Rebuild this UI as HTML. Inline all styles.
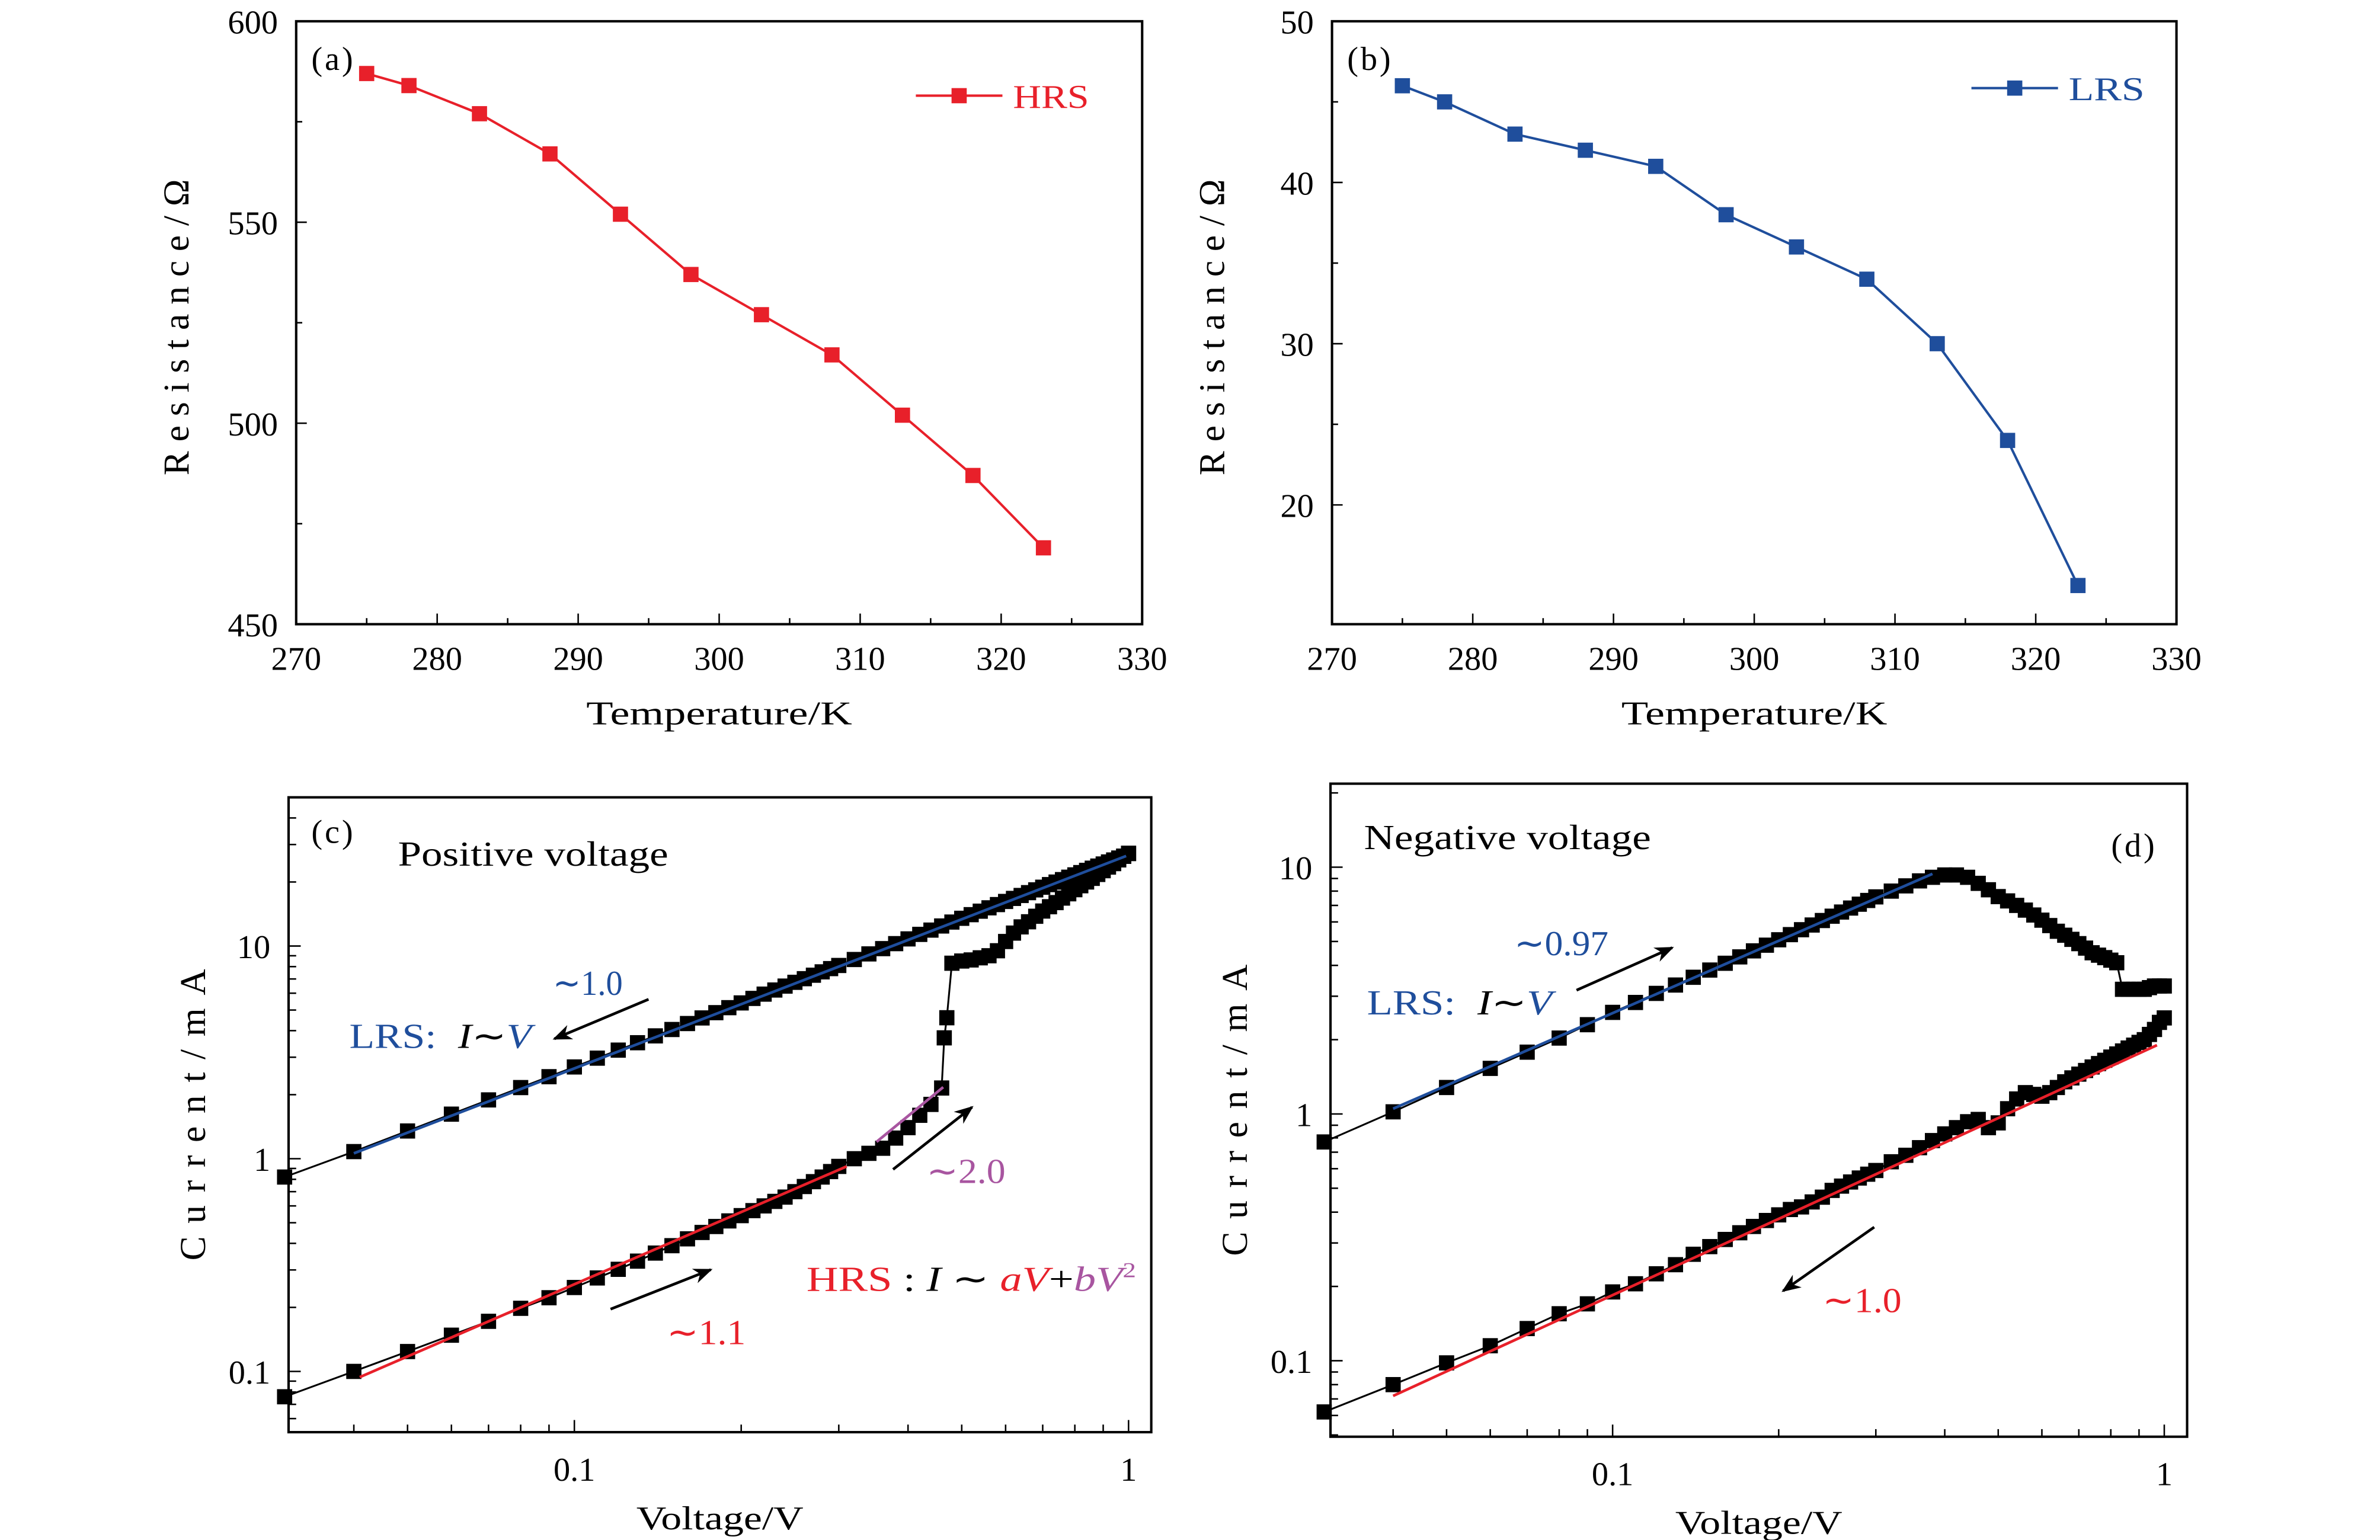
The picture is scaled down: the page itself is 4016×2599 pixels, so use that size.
<!DOCTYPE html>
<html><head><meta charset="utf-8">
<style>
html,body{margin:0;padding:0;background:#fff;}
svg{display:block;font-family:"Liberation Serif",serif;}
</style></head>
<body>
<svg id="fig" width="4016" height="2599" viewBox="0 0 1567 1014" preserveAspectRatio="none" xmlns="http://www.w3.org/2000/svg">
<defs>
<marker id="ah" viewBox="0 0 10 10" refX="9" refY="5" markerWidth="7" markerHeight="7" orient="auto"><path d="M0,1 L10,5 L0,9 L3,5 z" fill="#000"/></marker>
</defs>
</svg>
<script>
// ---- data ----
const tempA = [275,278,283,288,293,298,303,308,313,318,323];
const hrsR = [587,584,577,567,552,537,527,517,502,487,469];
const tempB = [275,278,283,288,293,298,303,308,313,318,323];
const lrsR = [46,45,43,42,41,38,36,34,30,24,15];
const tTicks = [270,280,290,300,310,320,330];
const aTicks = [450,500,550,600];
const bTicks = [20,30,40,50];

const vC = [0.03,0.04,0.05,0.06,0.07,0.08,0.09,0.10,0.11,0.12,0.13,0.14,0.15,0.16,0.17,0.18,0.19,0.20,0.21,0.22,0.23,0.24,0.25,0.26,0.27,0.28,0.29,0.30,0.32,0.34,0.36,0.38,0.40,0.42,0.44,0.46,0.48,0.50,0.52,0.54,0.56,0.58,0.60,0.62,0.64,0.66,0.68,0.70,0.72,0.74,0.76,0.78,0.80,0.82,0.84,0.86,0.88,0.90,0.92,0.94,0.96,0.98,1.00];
const lrsC = [0.82,1.08,1.35,1.62,1.89,2.16,2.43,2.70,2.97,3.24,3.51,3.78,4.05,4.32,4.59,4.86,5.13,5.40,5.67,5.94,6.21,6.48,6.75,7.02,7.29,7.56,7.83,8.10,8.64,9.18,9.72,10.26,10.8,11.34,11.88,12.42,12.96,13.5,14.04,14.58,15.12,15.66,16.2,16.74,17.28,17.82,18.36,18.9,19.44,19.98,20.52,21.06,21.6,22.14,22.68,23.22,23.76,24.3,24.84,25.38,25.92,26.46,27.2];
const vHc = [0.03,0.04,0.05,0.06,0.07,0.08,0.09,0.10,0.11,0.12,0.13,0.14,0.15,0.16,0.17,0.18,0.19,0.20,0.21,0.22,0.23,0.24,0.25,0.26,0.27,0.28,0.29,0.30,0.32,0.34,0.36,0.38,0.40,0.42,0.44,0.46,0.465,0.47,0.48,0.50,0.52,0.54,0.56,0.58,0.60,0.62,0.64,0.66,0.68,0.70,0.72,0.74,0.76,0.78,0.80,0.82,0.84,0.86,0.88,0.90,0.92,0.94,0.96,0.98,1.00];
const hrsC = [0.076,0.100,0.124,0.148,0.172,0.198,0.222,0.248,0.275,0.302,0.33,0.36,0.39,0.42,0.45,0.48,0.51,0.54,0.57,0.60,0.63,0.66,0.70,0.74,0.78,0.82,0.87,0.92,1.0,1.06,1.12,1.25,1.4,1.6,1.8,2.15,3.7,4.6,8.3,8.5,8.6,8.8,9.0,9.5,10.5,11.5,12.3,13.0,13.8,14.6,15.3,16.0,16.8,17.6,18.4,19.2,20.0,20.8,21.7,22.6,23.5,24.4,25.4,26.4,27.3];
const fitC = {lrsV:[0.04,0.99], lrsI:[1.06,26.5], hrsV:[0.041,0.31], hrsI:[0.094,0.92], sqV:[0.351,0.463], sqI:[1.2,2.17]};

const vD = vC;
const lrsD = [0.77,1.02,1.28,1.53,1.78,2.03,2.3,2.58,2.83,3.08,3.33,3.58,3.83,4.08,4.33,4.58,4.83,5.08,5.33,5.58,5.83,6.08,6.33,6.58,6.83,7.08,7.33,7.58,8.0,8.4,8.8,9.1,9.3,9.3,9.1,8.6,8.1,7.6,7.3,7.0,6.7,6.4,6.1,5.8,5.5,5.3,5.1,4.9,4.7,4.5,4.4,4.3,4.2,4.1,3.2,3.2,3.2,3.2,3.2,3.25,3.3,3.3,3.3];
const hrsD = [0.062,0.08,0.098,0.115,0.135,0.155,0.17,0.19,0.205,0.225,0.245,0.27,0.29,0.31,0.33,0.35,0.37,0.39,0.41,0.42,0.44,0.46,0.49,0.51,0.53,0.55,0.57,0.59,0.64,0.68,0.73,0.78,0.83,0.88,0.93,0.95,0.88,0.92,1.05,1.15,1.22,1.2,1.18,1.22,1.28,1.35,1.4,1.45,1.5,1.55,1.6,1.65,1.7,1.75,1.8,1.85,1.9,1.95,2.0,2.1,2.2,2.35,2.45];
const fitD = {lrsV:[0.04,0.38], lrsI:[1.05,9.4], hrsV:[0.04,0.97], hrsI:[0.072,1.9]};

const RED="#e8202a", BLUE="#1f4e9c", PURP="#a855a0";
const svg=document.getElementById('fig');
const NS="http://www.w3.org/2000/svg";
function mk(tag,attrs,parent,text){const e=document.createElementNS(NS,tag);for(const k in attrs)e.setAttribute(k,attrs[k]);if(text!==undefined)e.textContent=text;(parent||svg).appendChild(e);return e;}
function grp(name){const g=mk('g',{});


return g;}
function lin(d0,d1,r0,r1){return v=>r0+(v-d0)/(d1-d0)*(r1-r0);}
function lg(d0,d1,r0,r1){const a=Math.log10(d0),b=Math.log10(d1);return v=>r0+(Math.log10(v)-a)/(b-a)*(r1-r0);}

function frame(g,x0,y0,x1,y1){mk('rect',{x:x0,y:y0,width:x1-x0,height:y1-y0,fill:'none',stroke:'#000','stroke-width':1.6},g);}
function tick(g,x1,y1,x2,y2){mk('line',{x1,y1,x2,y2,stroke:'#000','stroke-width':1},g);}
function txt(g,x,y,s,opt){const o=Object.assign({x,y,'font-size':22,fill:'#000'},opt||{});return mk('text',o,g,s);}

// ---------- linear panels ----------
function linPanel(name,X0,X1,Y0,Y1,ymin,ymax,yt,xs,ys,color,leg,legX,legY,label){
  const g=grp(name);
  const sx=lin(270,330,X0,X1), sy=lin(ymin,ymax,Y1,Y0);
  frame(g,X0,Y0,X1,Y1);
  const ax=grp(name+'-x-axis'); g.appendChild(ax);
  tTicks.forEach(t=>{tick(ax,sx(t),Y1,sx(t),Y1-7);
    const l=txt(ax,sx(t),Y1+30,String(t),{'text-anchor':'middle'});
    
    
    if(t<330)tick(ax,sx(t+5),Y1,sx(t+5),Y1-4);});
  const xl=txt(ax,(X0+X1)/2,Y1+66,'Temperature/K',{'text-anchor':'middle',textLength:175,lengthAdjust:'spacingAndGlyphs'});
  
  
  const ay=grp(name+'-y-axis'); g.appendChild(ay);
  yt.forEach((t,i)=>{tick(ay,X0,sy(t),X0+7,sy(t));
    const l=txt(ay,X0-12,sy(t)+8,String(t),{'text-anchor':'end'});
    
    
    if(i<yt.length-1)tick(ay,X0,sy((t+yt[i+1])/2),X0+4,sy((t+yt[i+1])/2));});
  const yl=txt(ay,0,0,'Resistance/Ω',{'font-size':24,'text-anchor':'middle',textLength:195,lengthAdjust:'spacing',transform:`translate(${X0-71},${(Y0+Y1)/2+3}) rotate(-90)`});
  
  
  const s=grp(name+'-series'); g.appendChild(s);
  mk('polyline',{points:xs.map((x,i)=>sx(x)+','+sy(ys[i])).join(' '),fill:'none',stroke:color,'stroke-width':1.6},s);
  xs.forEach((x,i)=>{const r=mk('rect',{x:sx(x)-5,y:sy(ys[i])-5,width:10,height:10,fill:color},s);
    
    });
  const L=grp(name+'-legend-entry'); g.appendChild(L);
  mk('line',{x1:legX,y1:legY,x2:legX+57,y2:legY,stroke:color,'stroke-width':1.6},L);
  mk('rect',{x:legX+23.5,y:legY-5,width:10,height:10,fill:color},L);
  txt(L,legX+64,legY+8,leg,{fill:color,textLength:50,lengthAdjust:'spacingAndGlyphs'});
  const pl=txt(g,X0+10,Y0+32,label,{'letter-spacing':1.5});
  
  
}
linPanel('panel-a',195,752,14,411,450,600,aTicks,tempA,hrsR,RED,'HRS',603,63,'(a)');
linPanel('panel-b',877,1433,14,411,12.6,50,bTicks,tempB,lrsR,BLUE,'LRS',1298,58,'(b)');

// ---------- log panels ----------
function logPanel(name,X0,X1,Y0,Y1,xmin,xmax,ymin,ymax,data,fits,label){
  const g=grp(name);
  const sx=lg(xmin,xmax,X0,X1), sy=lg(ymin,ymax,Y1,Y0);
  frame(g,X0,Y0,X1,Y1);
  const ax=grp(name+'-x-axis'); g.appendChild(ax);
  for(let d=-2;d<=0;d++)for(let m=1;m<=9;m++){const v=m*Math.pow(10,d);if(v<xmin||v>xmax)continue;
    tick(ax,sx(v),Y1,sx(v),Y1-(m===1?8:5));}
  [0.1,1].forEach(t=>{const l=txt(ax,sx(t),Y1+32,String(t),{'text-anchor':'middle'});
    
    });
  const xl=txt(ax,(X0+X1)/2,Y1+64,'Voltage/V',{'text-anchor':'middle',textLength:110,lengthAdjust:'spacingAndGlyphs'});
  
  
  const ay=grp(name+'-y-axis'); g.appendChild(ay);
  for(let d=-2;d<=1;d++)for(let m=1;m<=9;m++){const v=m*Math.pow(10,d);if(v<ymin||v>ymax)continue;
    tick(ay,X0,sy(v),X0+(m===1?8:5),sy(v));}
  [0.1,1,10].forEach(t=>{const l=txt(ay,X0-12,sy(t)+8,String(t),{'text-anchor':'end'});
    
    });
  const yl=txt(ay,0,0,'Current/mA',{'font-size':24,'text-anchor':'middle',textLength:192,lengthAdjust:'spacing',transform:`translate(${X0-55},${(Y0+Y1)/2}) rotate(-90)`});
  
  
  data.forEach(([xs,ys,nm])=>{const s=grp(nm); g.appendChild(s);
    mk('polyline',{points:xs.map((x,i)=>sx(x)+','+sy(ys[i])).join(' '),fill:'none',stroke:'#000','stroke-width':1.2},s);
    xs.forEach((x,i)=>{const r=mk('rect',{x:sx(x)-5,y:sy(ys[i])-5,width:10,height:10,fill:'#000'},s);
      
      });});
  fits.forEach(([xs,ys,c,nm])=>{const l=mk('line',{x1:sx(xs[0]),y1:sy(ys[0]),x2:sx(xs[1]),y2:sy(ys[1]),stroke:c,'stroke-width':1.8},g);
    
    });
  const pl=txt(g,label[1],label[2],label[0],{'letter-spacing':1.5});
  
  
  return g;
}
const gc=logPanel('panel-c',190,758,525,943,0.0305,1.099,0.0518,50,
  [[vC,lrsC,'lrs-series'],[vHc,hrsC,'hrs-series']],
  [[fitC.lrsV,fitC.lrsI,BLUE,'lrs-fit-line'],[fitC.hrsV,fitC.hrsI,RED,'hrs-linear-fit-line'],[fitC.sqV,fitC.sqI,PURP,'hrs-square-fit-line']],
  ['(c)',205,555]);
const gd=logPanel('panel-d',876,1440,516,946,0.0308,1.1,0.0492,21.8,
  [[vD,lrsD,'lrs-series'],[vD,hrsD,'hrs-series']],
  [[fitD.lrsV,fitD.lrsI,BLUE,'lrs-fit-line'],[fitD.hrsV,fitD.hrsI,RED,'hrs-fit-line']],
  ['(d)',1390,564]);

function arrow(g,x1,y1,x2,y2){const a=mk('line',{x1,y1,x2,y2,stroke:'#000','stroke-width':1.8,'marker-end':'url(#ah)'},g);
  
  }
arrow(gc,427,658,365,684); arrow(gc,402,862,468,836); arrow(gc,588,770,640,729);
arrow(gd,1038,652,1101,624); arrow(gd,1234,808,1174,850);

function ann(g,name,x,y,html,len){const t=mk('text',{x,y,'font-size':23},g);t.innerHTML=html;
  if(len){t.setAttribute('textLength',len);t.setAttribute('lengthAdjust','spacingAndGlyphs');}
  
  }
ann(gc,'condition-label',262,570,'Positive voltage',178);
ann(gc,'lrs-slope-label',364,655,`<tspan fill="${BLUE}">∼1.0</tspan>`,46);
ann(gc,'lrs-law-label',230,690,`<tspan fill="${BLUE}">LRS:</tspan><tspan dx="12" font-style="italic">I</tspan><tspan>∼</tspan><tspan font-style="italic" fill="${BLUE}">V</tspan>`,120);
ann(gc,'square-slope-label',610,779,`<tspan fill="${PURP}">∼2.0</tspan>`,52);
ann(gc,'hrs-law-label',531,850,`<tspan fill="${RED}">HRS</tspan><tspan> : </tspan><tspan font-style="italic">I</tspan><tspan> ∼ </tspan><tspan font-style="italic" fill="${RED}">aV</tspan><tspan>+</tspan><tspan font-style="italic" fill="${PURP}">bV</tspan><tspan fill="${PURP}" font-size="14" dy="-9">2</tspan>`,217);
ann(gc,'hrs-slope-label',439,885,`<tspan fill="${RED}">∼1.1</tspan>`,52);
ann(gd,'condition-label',898,559,'Negative voltage',189);
ann(gd,'lrs-slope-label',997,629,`<tspan fill="${BLUE}">∼0.97</tspan>`,62);
ann(gd,'lrs-law-label',900,668,`<tspan fill="${BLUE}">LRS:</tspan><tspan dx="12" font-style="italic">I</tspan><tspan>∼</tspan><tspan font-style="italic" fill="${BLUE}">V</tspan>`,122);
ann(gd,'hrs-slope-label',1200,864,`<tspan fill="${RED}">∼1.0</tspan>`,52);
</script>
</body></html>
